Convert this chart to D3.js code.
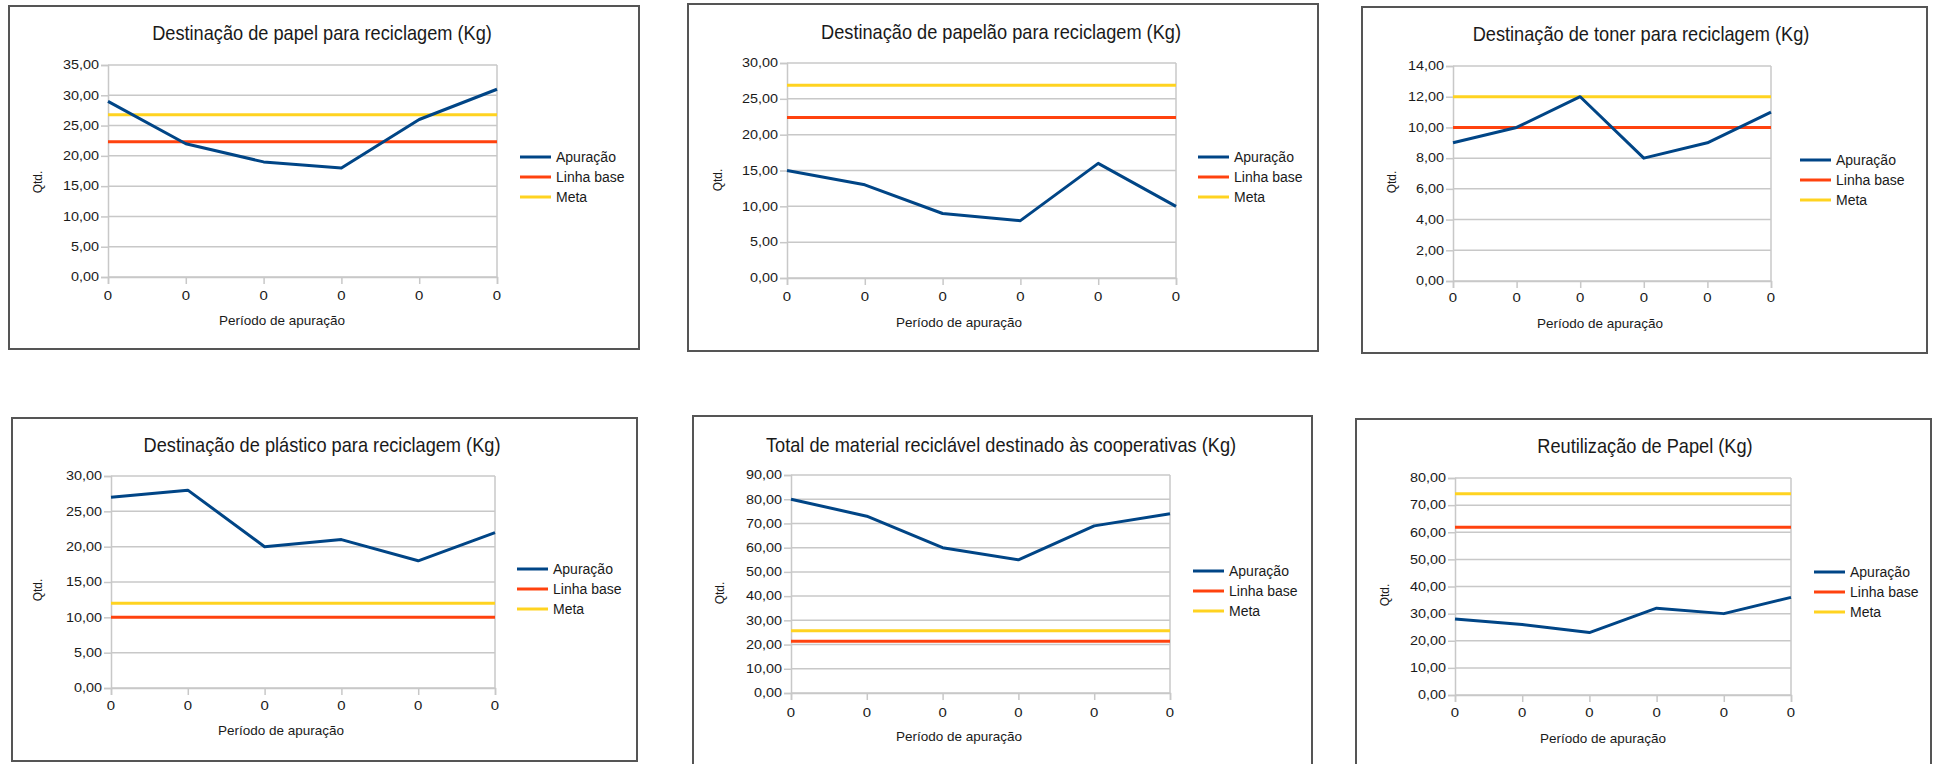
<!DOCTYPE html>
<html>
<head>
<meta charset="utf-8">
<script src="https://cdn.jsdelivr.net/npm/d3@7"></script>
<style>
  html, body { margin: 0; padding: 0; background: #fff; }
  svg { display: block; }
  text { font-family: "Liberation Sans", Arial, sans-serif; fill: #1a1a1a; }
</style>
</head>
<body>
<svg id="root" width="1935" height="764"></svg>
<script>
// Period labels (x axis)
const periodLabels = ["0", "0", "0", "0", "0", "0"];
const seriesNames = ["Apuração", "Linha base", "Meta"];

// Papel
const papelApuracao = [29, 22, 19, 18, 26, 31];
const papelLinhaBase = [22.33, 22.33, 22.33, 22.33, 22.33, 22.33];
const papelMeta = [26.8, 26.8, 26.8, 26.8, 26.8, 26.8];

// Papelão
const papelaoApuracao = [15, 13, 9, 8, 16, 10];
const papelaoLinhaBase = [22.4, 22.4, 22.4, 22.4, 22.4, 22.4];
const papelaoMeta = [26.88, 26.88, 26.88, 26.88, 26.88, 26.88];

// Toner
const tonerApuracao = [9, 10, 12, 8, 9, 11];
const tonerLinhaBase = [10, 10, 10, 10, 10, 10];
const tonerMeta = [12, 12, 12, 12, 12, 12];

// Plástico
const plasticoApuracao = [27, 28, 20, 21, 18, 22];
const plasticoLinhaBase = [10, 10, 10, 10, 10, 10];
const plasticoMeta = [12, 12, 12, 12, 12, 12];

// Total destinado às cooperativas
const totalApuracao = [80, 73, 60, 55, 69, 74];
const totalLinhaBase = [21.4, 21.4, 21.4, 21.4, 21.4, 21.4];
const totalMeta = [25.68, 25.68, 25.68, 25.68, 25.68, 25.68];

// Reutilização de papel
const reutilApuracao = [28, 26, 23, 32, 30, 36];
const reutilLinhaBase = [61.8, 61.8, 61.8, 61.8, 61.8, 61.8];
const reutilMeta = [74.16, 74.16, 74.16, 74.16, 74.16, 74.16];

// Y axis ranges: [max, step]
const papelAxis = [35, 5];
const papelaoAxis = [30, 5];
const tonerAxis = [14, 2];
const plasticoAxis = [30, 5];
const totalAxis = [90, 10];
const reutilAxis = [80, 10];

const titles = [
  "Destinação de papel para reciclagem (Kg)",
  "Destinação de papelão para reciclagem (Kg)",
  "Destinação de toner para reciclagem (Kg)",
  "Destinação de plástico para reciclagem (Kg)",
  "Total de material reciclável destinado às cooperativas (Kg)",
  "Reutilização de Papel (Kg)"
];
const yTitle = "Qtd.";
const xTitle = "Período de apuração";

const colors = ["#004586", "#ff420e", "#ffd320"];

// Layout of each panel
const panels = [
  { box: [9, 6, 639, 349], plot: [108, 65, 497, 277], title: [322, 33], legend: [520, 157], yt: [38, 182], xl: 295, xt: [282, 320],
    series: [papelApuracao, papelLinhaBase, papelMeta], axis: papelAxis },
  { box: [688, 4, 1318, 351], plot: [787, 63, 1176, 278], title: [1001, 32], legend: [1198, 157], yt: [718, 180], xl: 296, xt: [959, 322],
    series: [papelaoApuracao, papelaoLinhaBase, papelaoMeta], axis: papelaoAxis },
  { box: [1362, 7, 1927, 353], plot: [1453, 66, 1771, 281], title: [1641, 34], legend: [1800, 160], yt: [1392, 182], xl: 297, xt: [1600, 323],
    series: [tonerApuracao, tonerLinhaBase, tonerMeta], axis: tonerAxis },
  { box: [12, 418, 637, 761], plot: [111, 476, 495, 688], title: [322, 445], legend: [517, 569], yt: [38, 590], xl: 705, xt: [281, 730],
    series: [plasticoApuracao, plasticoLinhaBase, plasticoMeta], axis: plasticoAxis },
  { box: [693, 416, 1312, 775], plot: [791, 475, 1170, 693], title: [1001, 445], legend: [1193, 571], yt: [720, 593], xl: 712, xt: [959, 736],
    series: [totalApuracao, totalLinhaBase, totalMeta], axis: totalAxis },
  { box: [1356, 419, 1931, 775], plot: [1455, 478, 1791, 695], title: [1645, 446], legend: [1814, 572], yt: [1385, 595], xl: 712, xt: [1603, 738],
    series: [reutilApuracao, reutilLinhaBase, reutilMeta], axis: reutilAxis }
];

const ptBR = d3.formatLocale({ decimal: ",", thousands: ".", grouping: [3], currency: ["R$", ""] });
const fmt = ptBR.format(".2f");

const svg = d3.select("#root");

// Text helper: x,y is the visual centre line of capitals; sx squeezes/stretches horizontally
function label(g, str, x, y, fs, anchor, sx, rotate) {
  return g.append("text")
    .attr("transform", `translate(${x},${y})` + (rotate ? ` rotate(${rotate})` : "") + ` scale(${sx},1)`)
    .attr("y", fs * 0.36)
    .attr("font-size", fs)
    .attr("text-anchor", anchor)
    .text(str);
}

panels.forEach((p, i) => {
  const g = svg.append("g");
  const [bx0, by0, bx1, by1] = p.box;
  const [px0, py0, px1, py1] = p.plot;

  g.append("rect")
    .attr("x", bx0).attr("y", by0)
    .attr("width", bx1 - bx0).attr("height", by1 - by0)
    .attr("fill", "#fff").attr("stroke", "#555").attr("stroke-width", 2);

  const x = d3.scalePoint().domain(d3.range(periodLabels.length)).range([px0, px1]).padding(0);
  const [ymax, ystep] = p.axis;
  const y = d3.scaleLinear().domain([0, ymax]).range([py1, py0]);
  const yTicks = d3.range(0, ymax + ystep / 2, ystep);

  // Horizontal grid
  g.append("g").selectAll("line").data(yTicks).join("line")
    .attr("x1", px0).attr("x2", px1)
    .attr("y1", d => y(d)).attr("y2", d => y(d))
    .attr("stroke", "#c8c8c8").attr("stroke-width", 1.5);

  // Right frame edge
  g.append("line").attr("x1", px1).attr("x2", px1).attr("y1", py0).attr("y2", py1)
    .attr("stroke", "#c8c8c8").attr("stroke-width", 1.5);

  // Y axis
  const yAxis = g.append("g").attr("transform", `translate(${px0},0)`)
    .call(d3.axisLeft(y).tickValues(yTicks).tickSize(7).tickFormat(() => ""));
  yAxis.select(".domain").attr("stroke", "#c8c8c8").attr("stroke-width", 1.5);
  yAxis.selectAll(".tick line").attr("stroke", "#c8c8c8").attr("stroke-width", 1.5);
  yTicks.forEach(v => label(g, fmt(v), px0 - 9, y(v), 12, "end", 1.2));

  // X axis
  const xAxis = g.append("g").attr("transform", `translate(0,${py1})`)
    .call(d3.axisBottom(x).tickSize(7).tickFormat(() => ""));
  xAxis.select(".domain").attr("stroke", "#c8c8c8").attr("stroke-width", 1.5);
  xAxis.selectAll(".tick line").attr("stroke", "#c8c8c8").attr("stroke-width", 1.5);
  periodLabels.forEach((l, k) => label(g, l, x(k), p.xl, 13, "middle", 1.15));

  // Series lines
  const line = d3.line().x((d, k) => x(k)).y(d => y(d));
  [1, 2, 0].forEach(s => {
    g.append("path").datum(p.series[s])
      .attr("d", line)
      .attr("fill", "none")
      .attr("stroke", colors[s])
      .attr("stroke-width", 3)
      .attr("stroke-linejoin", "round");
  });

  // Titles
  label(g, titles[i], p.title[0], p.title[1], 20, "middle", 0.91);
  label(g, xTitle, p.xt[0], p.xt[1], 13.5, "middle", 1);
  label(g, yTitle, p.yt[0], p.yt[1], 12, "middle", 1, -90);

  // Legend
  const [lx, ly] = p.legend;
  seriesNames.forEach((name, s) => {
    const yy = ly + s * 20;
    g.append("line").attr("x1", lx).attr("x2", lx + 31).attr("y1", yy).attr("y2", yy)
      .attr("stroke", colors[s]).attr("stroke-width", 3);
    label(g, name, lx + 36, yy, 14, "start", 1);
  });
});
</script>
</body>
</html>
